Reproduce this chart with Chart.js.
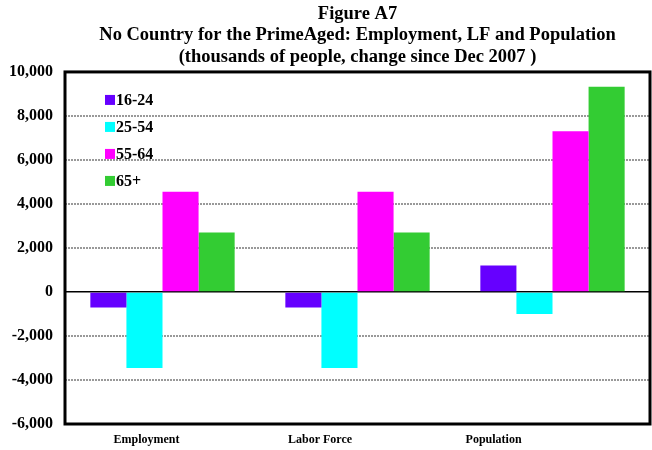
<!DOCTYPE html>
<html lang="en">
<head>
    <meta charset="UTF-8">
    <title>Figure A7</title>
    <script src="https://cdn.jsdelivr.net/npm/chart.js"></script>
    <style>
        body { margin: 0; background: #fff; }
    </style>
</head>
<body>
    <canvas id="grafico" width="652" height="450"></canvas>

    <script>
        // Datos: miles de personas, cambio desde dic 2007
        const categorias = ['Employment', 'Labor Force', 'Population'];
        const grupos = ['16-24', '25-54', '55-64', '65+'];
        const edad1624 = [-700, -700, 1200];
        const edad2554 = [-3450, -3450, -1000];
        const edad5564 = [4550, 4550, 7300];
        const edad65 = [2700, 2700, 9330];
        const colores = ['#6600FF', '#00FFFF', '#FF00FF', '#33CC33'];
        const titulo = [
            'Figure A7',
            'No Country for the PrimeAged: Employment, LF and Population',
            '(thousands of people, change since Dec 2007 )'
        ];

        const serie = [edad1624, edad2554, edad5564, edad65];
        const fuente = 'Liberation Serif';

        // Marco grueso, leyenda interior y etiquetas de categoría
        const marcoYLeyenda = {
            id: 'marcoYLeyenda',
            afterDatasetsDraw(chart) {
                const { ctx, chartArea: a } = chart;
                ctx.save();
                ctx.font = 'bold 16px "' + fuente + '"';
                ctx.textBaseline = 'middle';
                grupos.forEach((g, i) => {
                    const y = a.top + 28 + i * 27;
                    ctx.fillStyle = colores[i];
                    ctx.fillRect(a.left + 40, y - 5, 10, 10);
                    ctx.fillStyle = '#000';
                    ctx.fillText(g, a.left + 51, y + 1);
                });
                ctx.lineWidth = 3;
                ctx.strokeStyle = '#000';
                ctx.strokeRect(a.left, a.top, a.right - a.left, a.bottom - a.top);

                // las etiquetas van corridas a la izquierda respecto a cada grupo
                const ancho = (a.right - a.left) / categorias.length;
                ctx.font = 'bold 12px "' + fuente + '"';
                ctx.textAlign = 'center';
                ctx.textBaseline = 'top';
                categorias.forEach((c, i) => {
                    ctx.fillText(c, a.left + ancho * (0.418 + 0.89 * i), a.bottom + 10);
                });
                ctx.restore();
            }
        };

        const esCero = c => c.tick && c.tick.value === 0;

        const ctx = document.getElementById('grafico').getContext('2d');
        const grafico = new Chart(ctx, {
            type: 'bar',
            data: {
                labels: categorias,
                datasets: grupos.map((g, i) => ({
                    label: g,
                    data: serie[i],
                    backgroundColor: colores[i],
                    borderWidth: 0,
                    barPercentage: 1,
                    categoryPercentage: 0.74
                }))
            },
            options: {
                responsive: false,
                animation: false,
                layout: { padding: { left: 0, right: 2, top: 0, bottom: 0 } },
                plugins: {
                    legend: { display: false },
                    tooltip: { enabled: false },
                    title: {
                        display: true,
                        text: titulo,
                        color: '#000',
                        fullSize: false,
                        font: { family: fuente, size: 18.5, weight: 'bold', lineHeight: 1.17 },
                        padding: { top: 3, bottom: 4 }
                    }
                },
                scales: {
                    x: {
                        grid: { display: false, drawTicks: false },
                        border: { display: false },
                        ticks: { display: false },
                        afterFit(scale) { scale.height = 26; }
                    },
                    y: {
                        min: -6000,
                        max: 10000,
                        border: {
                            display: false,
                            dash: c => esCero(c) ? [] : [2, 1]
                        },
                        grid: {
                            drawTicks: false,
                            color: c => esCero(c) ? '#000' : '#999',
                            lineWidth: c => esCero(c) ? 1.5 : 2
                        },
                        ticks: {
                            stepSize: 2000,
                            color: '#000',
                            padding: 12,
                            font: { family: fuente, size: 16, weight: 'bold' },
                            callback: v => v.toLocaleString('en-US')
                        },
                        afterFit(scale) { scale.width = 65; }
                    }
                }
            },
            plugins: [marcoYLeyenda]
        });
    </script>
</body>
</html>
